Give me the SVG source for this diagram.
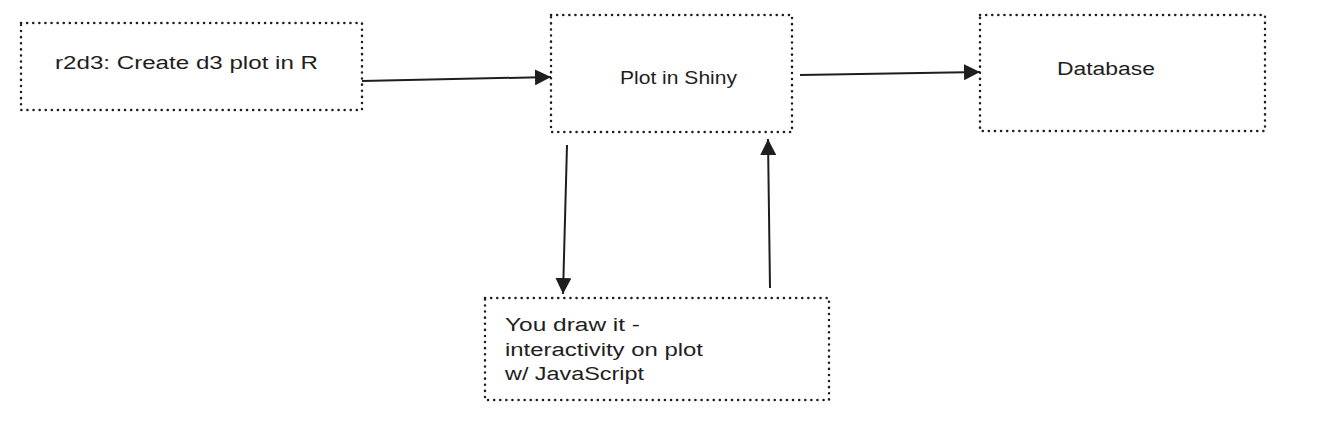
<svg xmlns="http://www.w3.org/2000/svg" width="1327" height="427" viewBox="0 0 1327 427">
<defs>
<style>
.box{fill:#fff;stroke:#1e1e1e;stroke-width:2.5;stroke-dasharray:0.1 6;stroke-linecap:round}
.lbl{font-family:"Liberation Sans",Arial,sans-serif;font-size:18px;fill:#1e1e1e}
.edge{stroke:#1e1e1e;stroke-width:2;fill:none}
</style>
<marker id="ah" viewBox="0 0 10 10" refX="10" refY="5" markerWidth="8" markerHeight="8" markerUnits="strokeWidth" orient="auto">
<path d="M0,0 L10,5 L0,10 Z" fill="#1e1e1e"/>
</marker>
</defs>
<rect width="1327" height="427" fill="#fff"/>
<g id="n-r2d3">
<rect class="box" x="21" y="23" width="341" height="87"/>
<text class="lbl" x="55" y="69" textLength="263" lengthAdjust="spacingAndGlyphs">r2d3: Create d3 plot in R</text>
</g>
<g id="n-shiny">
<rect class="box" x="551" y="15" width="241" height="117"/>
<text class="lbl" x="620" y="84" textLength="117" lengthAdjust="spacingAndGlyphs">Plot in Shiny</text>
</g>
<g id="n-db">
<rect class="box" x="980" y="15" width="285" height="116"/>
<text class="lbl" x="1057" y="75" textLength="98" lengthAdjust="spacingAndGlyphs">Database</text>
</g>
<g id="n-youdraw">
<rect class="box" x="485" y="298" width="344" height="102"/>
<text class="lbl" x="505" y="331" textLength="135" lengthAdjust="spacingAndGlyphs">You draw it -</text>
<text class="lbl" x="505" y="356" textLength="198" lengthAdjust="spacingAndGlyphs">interactivity on plot</text>
<text class="lbl" x="505" y="380" textLength="139" lengthAdjust="spacingAndGlyphs">w/ JavaScript</text>
</g>
<g id="connectors">
<path class="edge" d="M362,81 L551,77" marker-end="url(#ah)"/>
<path class="edge" d="M800,75 L980,72" marker-end="url(#ah)"/>
<path class="edge" d="M567,145 L563,294" marker-end="url(#ah)"/>
<path class="edge" d="M770,288 L768,139" marker-end="url(#ah)"/>
</g>
</svg>
